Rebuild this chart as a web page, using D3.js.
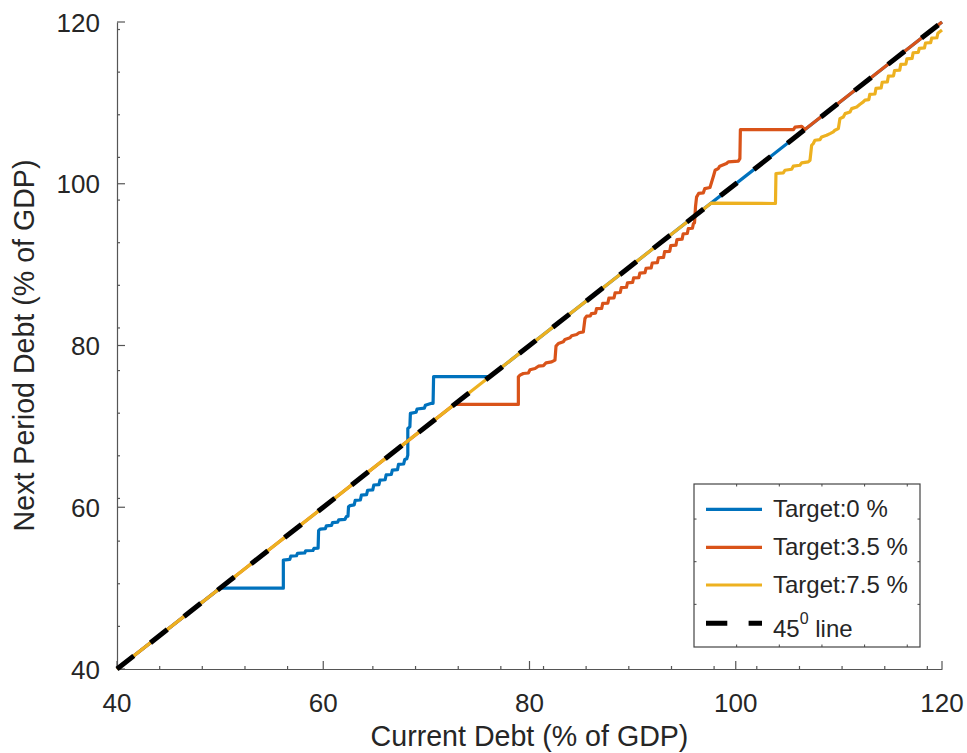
<!DOCTYPE html>
<html>
<head>
<meta charset="utf-8">
<script src="https://cdn.jsdelivr.net/npm/d3@7"></script>
<style>
  html, body { margin: 0; padding: 0; background: #fff; }
  svg { display: block; }
  text { font-family: "Liberation Sans", Arial, Helvetica, sans-serif; fill: #262626; }
</style>
</head>
<body>
<svg id="chart" width="967" height="753"></svg>
<script>
// ---- data (current debt, next period debt) ----
const xTicks = [40, 60, 80, 100, 120];
const yTicks = [40, 60, 80, 100, 120];
const xMinorTicks = [44.14, 48.27, 52.41, 56.54, 64.81, 68.95, 73.09, 77.22, 81.36, 85.49, 89.63, 93.77, 97.90, 102.04, 106.18, 110.31, 114.45, 118.58];
const yMinorTicks = [45.27, 50.54, 55.81, 61.09, 66.36, 71.63, 76.90, 82.17, 87.44, 92.71, 97.98, 103.26, 108.53, 113.80, 119.07];

const seriesNames = ["Target:0 %", "Target:3.5 %", "Target:7.5 %"];
const seriesColors = ["#0072BD", "#D95319", "#EDB120"];

const target0 = [[40,40],[50,50],[56.13,50],[56.13,53.47],[56.75,53.55],[56.85,53.95],[57.4,54.0],[57.5,54.3],[58.2,54.35],[58.3,54.62],[59.0,54.65],[59.1,54.92],[59.5,54.95],[59.55,57.1],[59.7,57.3],[60.2,57.35],[60.3,57.7],[60.8,57.75],[60.9,58.1],[61.4,58.15],[61.5,58.45],[62.1,58.5],[62.25,58.85],[62.4,58.9],[62.45,60.05],[62.6,60.2],[63.0,60.3],[63.1,60.85],[63.6,60.9],[63.7,61.5],[64.2,61.55],[64.3,62.1],[64.8,62.15],[64.9,62.75],[65.4,62.8],[65.5,63.35],[66.0,63.4],[66.1,64.0],[66.6,64.05],[66.7,64.6],[67.2,64.65],[67.3,65.3],[67.8,65.35],[67.9,65.9],[68.1,66.0],[68.2,66.45],[68.2,69.75],[68.4,69.95],[68.45,71.6],[69.0,71.75],[69.1,72.15],[69.8,72.25],[69.9,72.6],[70.5,72.85],[70.65,72.85],[70.7,76.15],[76.15,76.15],[120,120]];

const target35 = [[40,40],[72.72,72.72],[78.92,72.72],[78.92,76.13],[79.08,76.33],[79.4,76.54],[79.89,76.6],[80.05,77.0],[80.54,77.16],[80.86,77.44],[81.35,77.52],[81.6,77.85],[82.15,77.98],[82.47,78.19],[82.57,79.92],[82.8,80.25],[83.28,80.46],[83.44,80.75],[83.93,80.95],[84.09,81.2],[84.57,81.36],[84.8,81.57],[85.22,81.69],[85.38,83.34],[85.54,83.63],[85.9,83.65],[86.0,83.95],[86.4,84.0],[86.5,84.55],[87.0,84.6],[87.1,85.2],[87.6,85.25],[87.7,85.85],[88.2,85.9],[88.3,86.5],[88.8,86.55],[88.9,87.15],[89.4,87.2],[89.5,87.75],[90.0,87.8],[90.1,88.35],[90.6,88.4],[90.7,88.95],[91.2,89.0],[91.3,89.55],[91.8,89.6],[91.9,90.2],[92.4,90.25],[92.5,90.85],[93.0,90.9],[93.1,91.6],[93.6,91.65],[93.7,92.35],[94.2,92.4],[94.3,93.1],[94.8,93.15],[94.9,93.8],[95.3,93.85],[95.4,94.45],[95.8,94.5],[95.9,95.1],[96.0,95.15],[96.1,97.2],[96.2,98.35],[96.4,98.8],[96.85,98.87],[97.0,99.4],[97.5,99.53],[97.85,101.0],[98.0,101.67],[98.3,101.88],[98.45,102.17],[99.1,102.5],[99.28,102.7],[100.25,102.8],[100.4,103.1],[100.45,106.7],[105.6,106.7],[105.75,107.0],[106.4,107.1],[106.7,106.7],[120,120]];

const target75 = [[40,40],[97.6,97.6],[103.85,97.56],[103.9,101.27],[104.61,101.35],[104.77,101.67],[105.42,101.79],[105.58,102.17],[106.22,102.29],[106.39,102.58],[107.03,102.7],[107.2,102.9],[107.36,104.76],[107.52,104.97],[107.68,105.38],[108.17,105.46],[108.33,105.79],[108.81,106.0],[109.14,106.2],[109.46,106.41],[109.62,106.62],[109.95,106.82],[110.1,108.05],[110.43,108.26],[110.6,108.67],[111.08,108.88],[111.24,109.29],[111.73,109.5],[112.05,109.83],[112.37,110.12],[112.53,110.33],[112.9,110.4],[113.0,111.05],[113.5,111.1],[113.6,111.8],[114.1,111.85],[114.2,112.55],[114.7,112.6],[114.8,113.3],[115.3,113.35],[115.4,114.0],[115.9,114.05],[116.0,114.75],[116.5,114.8],[116.6,115.45],[117.1,115.5],[117.2,116.2],[117.7,116.25],[117.8,116.75],[118.3,116.8],[118.4,117.4],[118.9,117.45],[119.0,118.0],[119.5,118.05],[119.6,118.6],[120,119.0]];

const line45 = [[40,40],[120,120]];
const line45Name = "45";

// ---- layout ----
const svg = d3.select("#chart");
const pLeft = 117, pRight = 942, pTop = 22, pBottom = 669;
const x = d3.scaleLinear().domain([40, 120]).range([pLeft, pRight]);
const y = d3.scaleLinear().domain([40, 120]).range([pBottom, pTop]);
const axisColor = "#555";

// axes
const gx = svg.append("g").attr("transform", `translate(0,${pBottom})`);
gx.call(d3.axisBottom(x).tickValues(xTicks).tickSize(0).tickFormat(""));
gx.select(".domain").attr("stroke", axisColor).attr("stroke-width", 1.2);
gx.selectAll(".major").data(xTicks).enter().append("line")
  .attr("x1", d => x(d)).attr("x2", d => x(d)).attr("y1", 0).attr("y2", -8)
  .attr("stroke", axisColor).attr("stroke-width", 1.2);
gx.selectAll(".minor").data(xMinorTicks).enter().append("line")
  .attr("x1", d => x(d)).attr("x2", d => x(d)).attr("y1", 0).attr("y2", -3)
  .attr("stroke", axisColor).attr("stroke-width", 1.2);
gx.selectAll(".lab").data(xTicks).enter().append("text")
  .attr("x", d => x(d)).attr("y", 43).attr("text-anchor", "middle")
  .style("font-size", "26px").text(d => d);

const gy = svg.append("g").attr("transform", `translate(${pLeft},0)`);
gy.call(d3.axisLeft(y).tickValues(yTicks).tickSize(0).tickFormat(""));
gy.select(".domain").attr("stroke", axisColor).attr("stroke-width", 1.2);
gy.selectAll(".major").data(yTicks).enter().append("line")
  .attr("y1", d => y(d)).attr("y2", d => y(d)).attr("x1", 0).attr("x2", 8)
  .attr("stroke", axisColor).attr("stroke-width", 1.2);
gy.selectAll(".minor").data(yMinorTicks).enter().append("line")
  .attr("y1", d => y(d)).attr("y2", d => y(d)).attr("x1", 0).attr("x2", 3)
  .attr("stroke", axisColor).attr("stroke-width", 1.2);
gy.selectAll(".lab").data(yTicks).enter().append("text")
  .attr("x", -17).attr("y", d => y(d) + 9.5).attr("text-anchor", "end")
  .style("font-size", "26px").text(d => d);

// axis titles
svg.append("text").attr("x", (pLeft + pRight) / 2).attr("y", 746)
  .attr("text-anchor", "middle").style("font-size", "28.6px")
  .text("Current Debt (% of GDP)");
svg.append("text").attr("transform", `translate(34,${(pTop + pBottom) / 2}) rotate(-90)`)
  .attr("text-anchor", "middle").style("font-size", "28.6px")
  .text("Next Period Debt (% of GDP)");

// series
const line = d3.line().x(d => x(d[0])).y(d => y(d[1]));
[target0, target35, target75].forEach((s, i) => {
  svg.append("path").attr("d", line(s)).attr("fill", "none")
    .attr("stroke", seriesColors[i]).attr("stroke-width", 3.2)
    .attr("stroke-linejoin", "round");
});
svg.append("path").attr("d", line(line45)).attr("fill", "none")
  .attr("stroke", "#000").attr("stroke-width", 5)
  .attr("stroke-dasharray", "21.3 21.3");

// legend
const lg = svg.append("g");
const lx0 = 694, ly0 = 484, lx1 = 920, ly1 = 647;
lg.append("rect").attr("x", lx0).attr("y", ly0).attr("width", lx1 - lx0).attr("height", ly1 - ly0)
  .attr("fill", "#fff").attr("stroke", "#444").attr("stroke-width", 1.2);
// small tick marks on the legend frame
const lgTickX = d3.range(lx0 + 42.65, lx1 - 5, 42.65);
const lgTickY = d3.range(ly1 - 42.65, ly0 + 5, -42.65);
lgTickX.forEach(t => {
  lg.append("line").attr("x1", t).attr("x2", t).attr("y1", ly0).attr("y2", ly0 + 2.5).attr("stroke", "#444");
  lg.append("line").attr("x1", t).attr("x2", t).attr("y1", ly1).attr("y2", ly1 - 2.5).attr("stroke", "#444");
});
lgTickY.forEach(t => {
  lg.append("line").attr("y1", t).attr("y2", t).attr("x1", lx0).attr("x2", lx0 + 2.5).attr("stroke", "#444");
  lg.append("line").attr("y1", t).attr("y2", t).attr("x1", lx1).attr("x2", lx1 - 2.5).attr("stroke", "#444");
});
const entryY = [509.3, 547.3, 585, 623.3];
seriesNames.forEach((n, i) => {
  lg.append("line").attr("x1", 706).attr("x2", 762).attr("y1", entryY[i]).attr("y2", entryY[i])
    .attr("stroke", seriesColors[i]).attr("stroke-width", 3.2);
  lg.append("text").attr("x", 773).attr("y", entryY[i] + 8)
    .style("font-size", "24px").text(n);
});
lg.append("line").attr("x1", 706).attr("x2", 762).attr("y1", entryY[3]).attr("y2", entryY[3])
  .attr("stroke", "#000").attr("stroke-width", 5).attr("stroke-dasharray", "21.3 21.3");
const t45 = lg.append("text").attr("x", 773).attr("y", 636.7).style("font-size", "24px");
t45.append("tspan").text(line45Name);
t45.append("tspan").attr("dy", -13).style("font-size", "16px").text("0");
t45.append("tspan").attr("dy", 13).text(" line");
</script>
</body>
</html>
